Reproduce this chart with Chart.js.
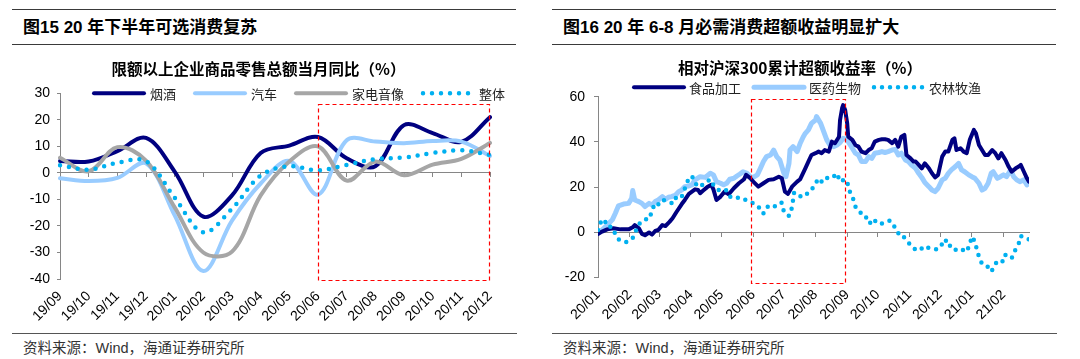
<!DOCTYPE html>
<html><head><meta charset="utf-8">
<script src="https://cdn.jsdelivr.net/npm/chart.js@4.4.1/dist/chart.umd.min.js"></script>
<style>
html,body{margin:0;padding:0;background:#fff;}
body{width:1080px;height:359px;position:relative;overflow:hidden;font-family:"Liberation Sans","Noto Sans CJK SC",sans-serif;}
.rule{position:absolute;height:0;border-top:1.6px solid #3a3a3a;}
.head{position:absolute;font-weight:bold;font-size:17px;color:#000;line-height:20px;white-space:nowrap;}
.src{position:absolute;font-size:14.5px;color:#333;line-height:18px;white-space:nowrap;}
canvas{position:absolute;top:0;}
</style></head><body>
<div class="rule" style="left:12px;width:504px;top:9px"></div>
<div class="rule" style="left:12px;width:504px;top:43.5px"></div>
<div class="rule" style="left:552px;width:504px;top:9px"></div>
<div class="rule" style="left:552px;width:504px;top:43.5px"></div>
<div class="head" style="left:23px;top:18px">图15 20 年下半年可选消费复苏</div>
<div class="head" style="left:563px;top:18px">图16 20 年 6-8 月必需消费超额收益明显扩大</div>
<canvas id="c1" width="517" height="330" style="left:0"></canvas>
<canvas id="c2" width="520" height="330" style="left:540px"></canvas>
<div class="rule" style="left:12px;width:505px;top:332.5px;border-top-color:#555"></div>
<div class="rule" style="left:552px;width:505px;top:332.5px;border-top-color:#555"></div>
<div class="src" style="left:23px;top:339px">资料来源：Wind，海通证券研究所</div>
<div class="src" style="left:563px;top:339px">资料来源：Wind，海通证券研究所</div>
<script>
// ---------- Left chart: 限额以上企业商品零售总额当月同比（%） ----------
const monthLabels = ['19/09','19/10','19/11','19/12','20/01','20/02','20/03','20/04','20/05','20/06','20/07','20/08','20/09','20/10','20/11','20/12'];
const tobaccoAlcohol = [4.5, 4.3, 8.2, 13.2, 0.5, -16.5, -8.5, 7.5, 10.3, 13.5, 5.5, 2.5, 18, 15, 11.7, 21];
const autos          = [-2, -3.1, -1.9, 3.6, -16, -37, -18, -4, 4.5, -8.2, 12.3, 11.8, 11.2, 12, 11.8, 6.4];
const appliances     = [5.7, 0.6, 9.7, 4.6, -13, -30, -29.7, -8.5, 4.3, 10, -2.9, 4.3, -0.9, 3.1, 5.3, 11.3];
const retailTotal    = [2.9, 1.2, 3.8, 4.4, -9.3, -22.4, -13.5, -1, 2.5, 1, 3, 5.2, 5.8, 7.5, 8.5, 6.8];
const leftSeriesNames = ['烟酒','汽车','家电音像','整体'];
const leftHighlight = {from: '20/06', to: '20/12', low: -40.7, high: 26};

// ---------- Right chart: 相对沪深300累计超额收益率（%） ----------
// x = days since 2020-01-01
const periodLabels = ['20/01','20/02','20/03','20/04','20/05','20/06','20/07','20/08','20/09','20/10','20/11','20/12','21/01','21/02'];
const foodDays = [0,4,9,15,22,30,34,36,40,43,46,50,53,56,59,63,66,70,73,77,82,85,89,95,98,
  100,103,107,111,113,116,120,124,128,133,138,143,145,149,152,157,162,167,172,177,180,183,186,190,195,198,
  203,206,209,213,216,219,222,226,229,232,236,237,239,240,242,244,245,249,252,255,258,262,265,268,271,275,278,281,284,288,291,294,297,300,302,306,309,
  311,314,317,320,324,327,330,333,337,340,343,347,349,351,355,358,361,364,368,370,373,376,379,382,386,389,392,395,399,402,405,409,412,414,417,420,422];
const foodValues = [-0.7,0.3,1.3,1.8,1.3,1.3,2.2,3.2,1.8,-0.7,-1.3,-0.1,-1,0.6,1,3.2,2.8,4.6,6.2,9.1,12.5,14.3,17,19,18.7,
  17.3,18.5,20,21,19,14.3,15.8,18,16.8,19.5,21.7,23.5,25.4,24,22.4,20.2,21.7,23.2,23.5,24.6,23.9,18,17,20.2,22.4,23.5,
  28.3,31.3,34.2,35,35.7,35,36.4,35.7,40.1,39.4,42.3,49.7,54.9,56.3,54.1,48.2,42.3,40.9,38.6,37.9,35.7,35,36.4,37.2,40.1,40.9,41.2,41.2,40.9,39.4,40.9,37.9,42.3,43.1,34.2,32.7,31.3,
  31.3,29.8,28.3,30.5,28.3,26.1,24.3,25.4,33.5,35.7,35.7,40.9,41.6,36.4,37.2,35.7,35,40.9,45.3,43.8,38.6,36.4,34.2,34.2,36.4,35,32.7,35,32,29.1,26.8,28.3,29.1,29.8,26.8,23.9,22.4];
const pharmaDays = [0,4,9,14,17,20,25,30,33,34,36,40,43,46,50,53,56,59,63,66,69,72,76,79,82,85,89,92,95,
  100,105,110,113,116,120,123,126,129,133,136,139,142,146,149,152,156,159,162,165,169,172,175,178,182,184,187,188,191,195,198,
  201,203,206,209,213,214,218,221,224,227,231,234,237,240,243,245,249,252,255,258,262,265,268,271,275,278,281,284,288,291,294,297,301,304,307,
  311,314,317,320,324,327,330,333,337,340,343,346,350,353,356,359,363,366,369,373,376,379,382,385,387,391,394,397,400,404,407,410,413,417,420,422];
const pharmaValues = [-0.4,1,3.2,5.5,8.4,11.7,12.5,12.8,15,18.5,14.3,13.6,12.8,11.4,12.8,12.1,13.6,14.3,15.8,14.6,15.5,15.8,16.5,18,18.7,20.2,20.5,21,23.2,
  24.6,24.3,26.1,25.4,22.4,21.7,21,21.7,23.5,23.9,24.9,25.8,26.8,26.1,24.6,24.3,25.4,28.3,31.3,33.5,34.2,36.4,33.5,32,26.1,24.6,30.5,36.4,37.9,35.7,39.4,
  42.3,43.8,45.3,48.2,49.7,51.2,48.2,44.5,40.9,38.6,37.9,38.6,39.7,41.6,41.2,40.1,37.2,35,34.2,31.3,31.3,33.5,32.7,35,35.3,35.7,35.3,35.7,36.4,36.7,34.2,35,32,31.3,29.8,
  28.3,26.1,24.3,22,20.2,18.7,18,19.5,23.2,23.9,26.1,27.6,29.1,30.5,27.6,26.8,25.4,24.6,23.9,21.7,18.7,19.5,21.7,26.1,26.8,23.9,24.6,25.4,24.6,27.6,24.6,23.2,22.4,23.2,21,21.7];
const agriDays = [0,2,6,9,13,20,27,33,36,38,41,46,50,55,58,61,64,68,71,74,77,82,88,92,95,99,
  110,113,118,125,128,133,139,143,147,152,155,160,162,165,169,173,176,180,182,187,190,192,196,
  201,203,206,209,213,216,219,222,226,229,234,237,242,245,247,250,252,257,260,265,267,271,276,283,286,289,293,295,299,302,307,312,
  315,320,324,329,333,337,340,343,346,351,356,361,364,366,369,371,373,376,381,385,387,391,394,397,399,405,408,412,414,418,422];
const agriValues = [1,4,5.8,2.5,2.5,-3.1,-4.4,-3.1,-1.2,2.2,4,5.8,5.8,12.1,11.4,14,14.3,13.6,13.1,12.8,16.1,15.8,22.9,24.9,21.7,19.9,
  23.5,21,18.7,19,16.1,15,15.5,14.6,14,12.8,11.4,10.6,8.4,11,12.1,11.4,12.8,13.1,9.1,7.2,11,17.6,16.1,
  15.8,16,18,18.7,21.7,23.9,22.4,24.3,23.9,23.9,26.1,22.4,23.5,20.9,17.3,14.6,11.4,8.7,6.6,6.6,3.5,5.2,3.5,4.7,5.2,3.2,1,-1.6,-1.9,-3.4,-6.3,-8.1,
  -7.8,-6,-7,-7.5,-7.5,-5.2,-3.1,-6.3,-5.6,-8.1,-7.5,-8.6,-5.2,-1.9,-4.1,-7.8,-10.8,-14,-14.9,-17.4,-15.9,-12.5,-12.5,-13,-10,-11.5,-8.3,-4.9,-1.6,-2.7,-3.1];
const rightSeriesNames = ['食品加工','医药生物','农林牧渔'];
const rightHighlight = {from: 150, to: 243, low: -22.9, high: 59};

// ---------- helpers ----------
const DAY0 = Date.UTC(2020, 0, 1);
const tickDays = periodLabels.map(l => { const p = l.split('/').map(Number); return (Date.UTC(2000 + p[0], p[1] - 1, 1) - DAY0) / 86400000; });
const pts = (xs, ys) => xs.map((x, i) => ({x: x, y: ys[i]}));
const lastDay = Math.max(foodDays[foodDays.length-1], pharmaDays[pharmaDays.length-1], agriDays[agriDays.length-1]);

Chart.defaults.font.family = "'Liberation Sans','Noto Sans CJK SC',sans-serif";
Chart.defaults.color = '#000';
const AXIS = '#868686';
const NAVY = '#000080', LIGHT = '#99CCFF', GREY = '#A6A6A6', CYAN = '#00B0F0', RED = '#FF0000';
const CJK = "'Noto Sans CJK SC',sans-serif";

const lineLegend = {
  id: 'lineLegend',
  afterDraw(chart, args, o) {
    const {ctx, chartArea} = chart;
    let x = chartArea.left + o.dx;
    const y = chartArea.top + o.dy;
    ctx.save();
    ctx.font = o.font;
    ctx.textBaseline = 'middle';
    chart.data.datasets.forEach(ds => {
      ctx.beginPath();
      ctx.setLineDash(ds.borderDash || []);
      ctx.lineCap = 'round';
      ctx.lineWidth = ds.borderWidth;
      ctx.strokeStyle = ds.borderColor;
      ctx.moveTo(x, y); ctx.lineTo(x + o.sample, y); ctx.stroke();
      ctx.setLineDash([]);
      ctx.fillStyle = o.color;
      ctx.fillText(ds.label, x + o.sample + o.textGap, y + 0.5);
      x += o.sample + o.textGap + ctx.measureText(ds.label).width + o.itemGap;
    });
    ctx.restore();
  }
};
const focusBox = {
  id: 'focusBox',
  afterDraw(chart, args, o) {
    const xs = chart.scales.x, ys = chart.scales.y, ctx = chart.ctx;
    const x1 = Math.round(xs.getPixelForValue(o.x0)) + 0.5, x2 = Math.round(xs.getPixelForValue(o.x1)) - 0.5;
    const y1 = Math.round(ys.getPixelForValue(o.y1)) + 0.5, y2 = Math.round(ys.getPixelForValue(o.y0)) - 0.5;
    ctx.save();
    ctx.strokeStyle = RED; ctx.lineWidth = 1.2; ctx.setLineDash([4, 3]);
    ctx.beginPath();
    ctx.rect(x1, y1, x2 - x1, y2 - y1);
    ctx.stroke();
    ctx.restore();
  }
};

const tickFont = {family: 'Liberation Sans', size: 14};
// invisible right-hand spacer axis so the title centres over the panel, not the plot
const spacerAxis = w => ({type: 'linear', position: 'right', display: true,
  grid: {display: false, drawTicks: false}, border: {display: false}, ticks: {display: false},
  afterFit(s) { s.width = w; }});

// ---------- left chart ----------
new Chart(document.getElementById('c1'), {
  type: 'line',
  data: {
    labels: monthLabels,
    datasets: [
      {label: leftSeriesNames[0], data: tobaccoAlcohol, borderColor: NAVY, borderWidth: 4, tension: 0.35, order: 4},
      {label: leftSeriesNames[1], data: autos, borderColor: LIGHT, borderWidth: 4, tension: 0.35, order: 3},
      {label: leftSeriesNames[2], data: appliances, borderColor: GREY, borderWidth: 4, tension: 0.35, order: 2},
      {label: leftSeriesNames[3], data: retailTotal, borderColor: CYAN, borderWidth: 4.5, borderDash: [0, 9], tension: 0.35, order: 1}
    ]
  },
  options: {
    responsive: false, animation: false,
    layout: {padding: {left: 0, right: 0, top: 0, bottom: 0}},
    elements: {point: {radius: 0}, line: {borderCapStyle: 'round', borderJoinStyle: 'round', fill: false}},
    plugins: {
      legend: {display: false}, tooltip: {enabled: false},
      title: {display: true, text: '限额以上企业商品零售总额当月同比（%）', color: '#000',
        font: {family: CJK, size: 15.5, weight: 'bold', lineHeight: 1.2}, padding: {top: 59.7, bottom: 15}},
      lineLegend: {dx: 34, dy: 0, sample: 50, textGap: 6, itemGap: 19, font: "13px 'Noto Sans CJK SC'", color: '#222'},
      focusBox: {x0: monthLabels.indexOf(leftHighlight.from), x1: monthLabels.indexOf(leftHighlight.to), y0: leftHighlight.low, y1: leftHighlight.high}
    },
    scales: {
      x: {type: 'category', position: {y: 0}, ticks: {display: false},
        grid: {display: true, drawOnChartArea: false, drawTicks: true, tickLength: 4, color: AXIS},
        border: {display: true, color: AXIS, width: 1}},
      x2: {type: 'category', position: 'bottom', grid: {display: false, drawTicks: false}, border: {display: false},
        ticks: {autoSkip: false, minRotation: 45, maxRotation: 45, padding: 9, color: '#000', font: tickFont},
        afterFit(s) { s.height = 51; }},
      y: {type: 'linear', min: -40, max: 30,
        ticks: {stepSize: 10, padding: 7, color: '#000', font: tickFont},
        grid: {display: true, drawOnChartArea: false, drawTicks: true, tickLength: 3, color: AXIS},
        border: {display: true, color: AXIS, width: 1},
        afterFit(s) { s.width = 60; }},
      ySpacer: spacerAxis(27)
    }
  },
  plugins: [lineLegend, focusBox]
});

// ---------- right chart ----------
const setMonthTicks = s => { s.ticks = tickDays.map(v => ({value: v})); };
new Chart(document.getElementById('c2'), {
  type: 'line',
  data: {
    datasets: [
      {label: rightSeriesNames[0], data: pts(foodDays, foodValues), borderColor: NAVY, borderWidth: 4, order: 2},
      {label: rightSeriesNames[1], data: pts(pharmaDays, pharmaValues), borderColor: LIGHT, borderWidth: 5, order: 3},
      {label: rightSeriesNames[2], data: pts(agriDays, agriValues), borderColor: CYAN, borderWidth: 4.5, borderDash: [0, 8], order: 1}
    ]
  },
  options: {
    responsive: false, animation: false,
    layout: {padding: {left: 0, right: 0, top: 0, bottom: 0}},
    elements: {point: {radius: 0}, line: {tension: 0, borderCapStyle: 'round', borderJoinStyle: 'round', fill: false}},
    plugins: {
      legend: {display: false}, tooltip: {enabled: false},
      title: {display: true, text: '相对沪深300累计超额收益率（%）', color: '#000',
        font: {family: CJK, size: 15.5, weight: 'bold', lineHeight: 1.2}, padding: {top: 58.7, bottom: 19.4}},
      lineLegend: {dx: 36, dy: -9.4, sample: 50, textGap: 5, itemGap: 13, font: "13px 'Noto Sans CJK SC'", color: '#222'},
      focusBox: {x0: rightHighlight.from, x1: rightHighlight.to, y0: rightHighlight.low, y1: rightHighlight.high}
    },
    scales: {
      x: {type: 'linear', position: {y: 0}, min: 0, max: lastDay, afterBuildTicks: setMonthTicks,
        ticks: {display: false},
        grid: {display: true, drawOnChartArea: false, drawTicks: true, tickLength: 4, color: AXIS},
        border: {display: true, color: AXIS, width: 1}},
      x2: {type: 'linear', position: 'bottom', min: 0, max: lastDay, afterBuildTicks: setMonthTicks,
        grid: {display: false, drawTicks: false}, border: {display: false},
        ticks: {autoSkip: false, minRotation: 45, maxRotation: 45, padding: 9, color: '#000', font: tickFont,
          callback: v => periodLabels[tickDays.indexOf(v)]},
        afterFit(s) { s.height = 52.5; }},
      y: {type: 'linear', min: -20, max: 60,
        ticks: {stepSize: 20, padding: 9, color: '#000', font: tickFont},
        grid: {display: true, drawOnChartArea: false, drawTicks: true, tickLength: 4, color: AXIS},
        border: {display: true, color: AXIS, width: 1},
        afterFit(s) { s.width = 58; }},
      ySpacer: spacerAxis(31)
    }
  },
  plugins: [lineLegend, focusBox]
});
</script>
</body></html>
